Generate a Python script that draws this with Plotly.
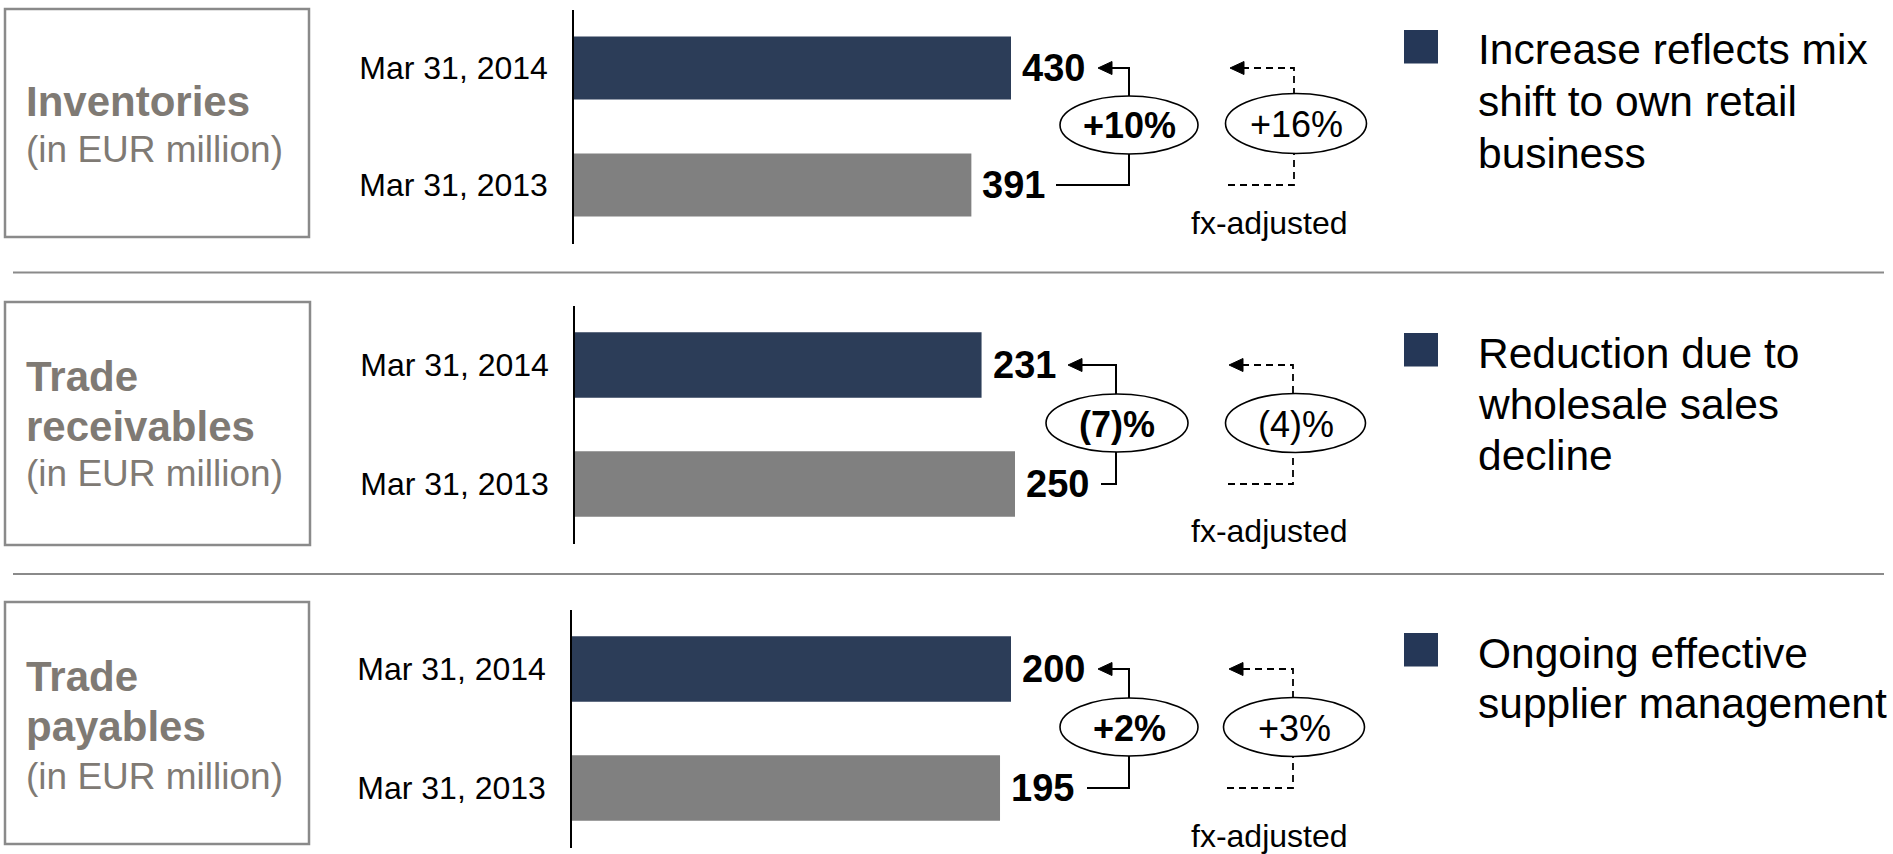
import plotly.graph_objects as go

W, H = 1893, 854

# ---------------- data ----------------
categories = ["Mar 31, 2014", "Mar 31, 2013"]
inventories = [430, 391]
trade_receivables = [231, 250]
trade_payables = [200, 195]
series = [inventories, trade_receivables, trade_payables]

titles = [["Inventories"], ["Trade", "receivables"], ["Trade", "payables"]]
unit_label = "(in EUR million)"
change_reported = ["+10%", "(7)%", "+2%"]
change_fx_adjusted = ["+16%", "(4)%", "+3%"]
fx_label = "fx-adjusted"
comments = [
    ["Increase reflects mix", "shift to own retail", "business"],
    ["Reduction due to", "wholesale sales", "decline"],
    ["Ongoing effective", "supplier management"],
]

# ---------------- styles / layout (pixels) ----------------
FONT = "Liberation Sans, Arial, Helvetica, sans-serif"
DARK = "#2C3D58"
GRAY_BAR = "#808080"
TITLE_GRAY = "#7F7A74"
BORDER = "#8A8A8A"
BULLET = "#253757"

PANELS = [
    dict(axis_x=574, bar_end=1011, dom=(9.5, 243.5), bar_w=0.54, box=(5, 9, 309, 237),
         title_y=[101], unit_y=150, conn_x=1129, tip_top=1098, line_bot=1056,
         ell1=(1129, 125, 69, 29), ell2=(1296, 123.5, 70.5, 30), dash_x=1294, dash_tip=1230, dash_bot=1228,
         fx_y=223, sq_y=30, text_y=[49.5, 101.5, 153.5]),
    dict(axis_x=575, bar_end=1015, dom=(305.5, 543.5), bar_w=0.55, box=(5, 302, 310, 545),
         title_y=[376, 426], unit_y=473.5, conn_x=1116, tip_top=1068, line_bot=1101,
         ell1=(1117, 423, 71, 29), ell2=(1295.5, 423, 70, 29.5), dash_x=1293, dash_tip=1229, dash_bot=1228,
         fx_y=531, sq_y=333, text_y=[353, 404, 455]),
    dict(axis_x=572, bar_end=1011, dom=(609.5, 847.5), bar_w=0.55, box=(5, 602, 309, 844),
         title_y=[676.5, 726], unit_y=776, conn_x=1129, tip_top=1098, line_bot=1087,
         ell1=(1129, 727, 69, 29), ell2=(1294, 727, 70.5, 29.5), dash_x=1293, dash_tip=1229, dash_bot=1227,
         fx_y=836, sq_y=633, text_y=[653, 703.5]),
]
SEPARATORS_Y = [272.5, 574]


def px(x):
    return x / W


def py(y):
    return 1 - y / H


fig = go.Figure()
shapes = []
annotations = []
layout_axes = {}

for i, (vals, P) in enumerate(zip(series, PANELS)):
    n = "" if i == 0 else str(i + 1)
    xa, ya = "x" + n, "y" + n
    fig.add_trace(go.Bar(
        x=vals, y=categories, orientation="h", xaxis=xa, yaxis=ya,
        marker=dict(color=[DARK, GRAY_BAR], line=dict(width=0)),
        width=P["bar_w"], showlegend=False, hoverinfo="skip",
    ))
    rmax = max(vals) * (W - P["axis_x"]) / (P["bar_end"] - P["axis_x"])
    layout_axes["xaxis" + n] = dict(domain=[px(P["axis_x"]), 1.0], range=[0, rmax], visible=False,
                                   anchor=ya, fixedrange=True)
    layout_axes["yaxis" + n] = dict(
        domain=[py(P["dom"][1]), py(P["dom"][0])], anchor=xa, type="category",
        categoryorder="array", categoryarray=categories, range=[1.5, -0.5],
        showline=True, linecolor="black", linewidth=1.5, showgrid=False, zeroline=False,
        ticks="", ticklabelstandoff=18, automargin=False,
        tickfont=dict(family=FONT, size=32, color="black"),
    )
    # value labels
    for v, c in zip(vals, categories):
        annotations.append(dict(x=v, y=c, xref=xa, yref=ya, text=f"<b>{v}</b>", showarrow=False,
                                xanchor="left", yanchor="middle", xshift=9,
                                font=dict(family=FONT, size=38, color="black")))

    sp = (P["dom"][1] - P["dom"][0]) / 2
    y_top = P["dom"][0] + sp / 2
    y_bot = P["dom"][0] + 1.5 * sp

    # left box + titles
    bx0, by0, bx1, by1 = P["box"]
    shapes.append(dict(type="rect", xref="paper", yref="paper", x0=px(bx0), x1=px(bx1),
                       y0=py(by1), y1=py(by0), line=dict(color=BORDER, width=2.5)))
    for t, ty in zip(titles[i], P["title_y"]):
        annotations.append(dict(x=px(24), y=py(ty), xref="paper", yref="paper", text=f"<b>{t}</b>",
                                showarrow=False, xanchor="left", yanchor="middle",
                                font=dict(family=FONT, size=42, color=TITLE_GRAY)))
    annotations.append(dict(x=px(24), y=py(P["unit_y"]), xref="paper", yref="paper", text=unit_label,
                            showarrow=False, xanchor="left", yanchor="middle",
                            font=dict(family=FONT, size=37, color=TITLE_GRAY)))

    # solid connector (reported change)
    cx = P["conn_x"]
    shapes.append(dict(type="path", xref="paper", yref="paper",
                       path=f"M {px(P['line_bot'])},{py(y_bot)} L {px(cx)},{py(y_bot)} "
                            f"L {px(cx)},{py(y_top)} L {px(P['tip_top'] + 10)},{py(y_top)}",
                       line=dict(color="black", width=2)))
    t = P["tip_top"]
    shapes.append(dict(type="path", xref="paper", yref="paper",
                       path=f"M {px(t)},{py(y_top)} L {px(t + 14)},{py(y_top - 6.5)} "
                            f"L {px(t + 14)},{py(y_top + 6.5)} Z",
                       fillcolor="black", line=dict(color="black", width=1)))
    # dashed connector (fx-adjusted)
    dx = P["dash_x"]
    shapes.append(dict(type="path", xref="paper", yref="paper",
                       path=f"M {px(P['dash_bot'])},{py(y_bot)} L {px(dx)},{py(y_bot)} "
                            f"L {px(dx)},{py(y_top)} L {px(P['dash_tip'] + 10)},{py(y_top)}",
                       line=dict(color="black", width=1.8, dash="7px,5px")))
    t = P["dash_tip"]
    shapes.append(dict(type="path", xref="paper", yref="paper",
                       path=f"M {px(t)},{py(y_top)} L {px(t + 14)},{py(y_top - 6.5)} "
                            f"L {px(t + 14)},{py(y_top + 6.5)} Z",
                       fillcolor="black", line=dict(color="black", width=1)))
    # ellipses
    for (ex, ey, rx, ry), label, bold in [(P["ell1"], change_reported[i], True),
                                         (P["ell2"], change_fx_adjusted[i], False)]:
        shapes.append(dict(type="circle", xref="paper", yref="paper",
                           x0=px(ex - rx), x1=px(ex + rx), y0=py(ey + ry), y1=py(ey - ry),
                           fillcolor="white", line=dict(color="black", width=1.6)))
        annotations.append(dict(x=px(ex), y=py(ey + 1), xref="paper", yref="paper",
                                text=f"<b>{label}</b>" if bold else label, showarrow=False,
                                xanchor="center", yanchor="middle",
                                font=dict(family=FONT, size=36, color="black")))
    annotations.append(dict(x=px(1269.5), y=py(P["fx_y"]), xref="paper", yref="paper", text=fx_label,
                            showarrow=False, xanchor="center", yanchor="middle",
                            font=dict(family=FONT, size=32, color="black")))

    # comment bullet + text
    sq = P["sq_y"]
    shapes.append(dict(type="rect", xref="paper", yref="paper", x0=px(1404), x1=px(1438),
                       y0=py(sq + 33.5), y1=py(sq), fillcolor=BULLET, line=dict(width=0)))
    for line, ty in zip(comments[i], P["text_y"]):
        annotations.append(dict(x=px(1476), y=py(ty), xref="paper", yref="paper", text=line,
                                showarrow=False, xanchor="left", yanchor="middle",
                                font=dict(family=FONT, size=42.5, color="black")))

for sy in SEPARATORS_Y:
    shapes.append(dict(type="line", xref="paper", yref="paper", x0=px(13), x1=px(1884),
                       y0=py(sy), y1=py(sy), line=dict(color=BORDER, width=2)))

fig.update_layout(
    width=W, height=H, autosize=False,
    margin=dict(l=0, r=0, t=0, b=0, pad=0),
    paper_bgcolor="white", plot_bgcolor="rgba(0,0,0,0)",
    font=dict(family=FONT),
    shapes=shapes, annotations=annotations, showlegend=False,
    **layout_axes,
)

fig.write_html("out.html", config={"displayModeBar": False})
